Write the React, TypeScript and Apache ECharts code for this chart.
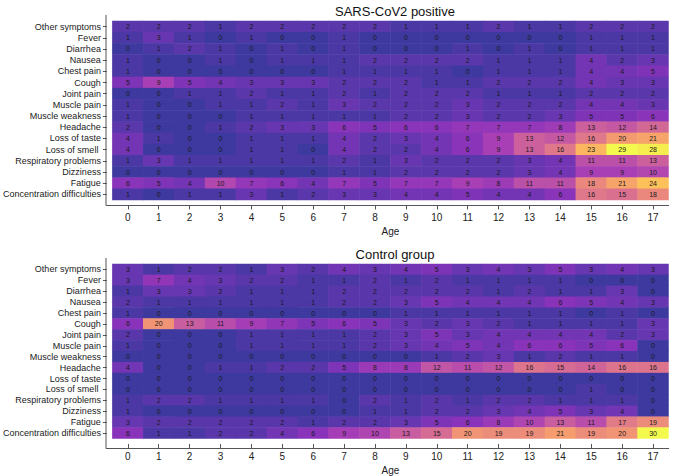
import React, { useEffect, useRef } from "react";
import * as echarts from "echarts";

const ages = ["0","1","2","3","4","5","6","7","8","9","10","11","12","13","14","15","16","17"];
const symptoms = [
  "Other symptoms","Fever","Diarrhea","Nausea","Chest pain","Cough","Joint pain","Muscle pain",
  "Muscle weakness","Headache","Loss of taste","Loss of smell ","Respiratory problems","Dizziness",
  "Fatigue","Concentration difficulties",
];

const sarsValues: number[][] = [
  [2,2,2,1,2,2,2,2,2,1,1,1,2,1,1,2,2,2],
  [1,3,1,0,1,0,0,1,0,0,0,0,0,0,0,1,1,1],
  [0,1,2,1,0,1,0,1,0,0,0,1,0,1,0,1,1,1],
  [1,0,0,1,0,1,1,1,2,2,2,2,1,1,1,4,2,3],
  [1,0,0,0,0,0,0,1,1,1,1,0,1,1,1,4,4,5],
  [5,9,5,4,3,3,3,2,2,2,1,1,2,2,2,4,3,3],
  [0,0,1,1,2,1,1,2,1,2,2,2,1,1,1,2,2,2],
  [1,0,0,1,1,2,1,3,2,2,2,3,2,2,2,4,4,3],
  [1,0,0,0,1,1,1,1,1,2,2,3,2,2,3,5,5,6],
  [2,0,0,1,2,3,3,6,5,6,6,7,7,7,8,13,12,14],
  [4,1,0,0,1,1,1,4,2,3,4,6,9,13,12,16,20,21],
  [4,0,0,0,1,1,0,4,2,2,4,6,9,13,16,23,29,28],
  [1,3,1,1,1,1,1,2,1,3,2,2,2,3,4,11,11,13],
  [0,0,0,0,0,0,0,1,1,2,2,2,2,3,4,9,9,10],
  [6,5,4,10,7,6,4,7,5,7,7,9,8,11,11,18,21,24],
  [1,0,1,1,3,1,2,3,3,4,4,5,4,4,6,16,15,18],
];

const controlValues: number[][] = [
  [3,1,2,2,1,3,2,4,3,4,5,3,4,3,5,3,4,3],
  [3,7,4,3,2,2,1,1,2,1,2,1,1,1,1,0,0,0],
  [1,3,3,2,1,1,1,2,2,2,2,2,1,2,1,1,3,0],
  [2,1,1,1,1,1,1,2,2,3,5,4,4,4,6,5,4,3],
  [1,0,0,0,0,0,0,0,0,1,1,1,1,1,1,0,1,0],
  [6,20,13,11,9,7,5,6,5,3,2,3,2,1,1,1,1,3],
  [2,0,0,0,1,1,1,1,2,3,5,3,4,4,4,4,2,3],
  [1,0,0,0,1,1,1,1,2,3,4,5,4,6,6,5,6,0],
  [0,0,0,0,0,0,0,0,0,0,1,2,3,1,2,1,1,0],
  [4,0,0,1,1,2,2,5,8,8,12,11,12,16,15,14,16,16],
  [0,0,0,0,0,0,0,0,0,0,0,0,0,0,0,0,0,0],
  [0,0,0,0,0,0,0,0,0,0,0,0,0,0,0,1,0,0],
  [1,2,2,1,1,1,1,0,2,1,2,1,2,2,1,1,1,0],
  [1,0,0,0,0,0,0,0,1,1,2,2,3,4,5,3,4,0],
  [3,2,2,2,2,2,1,2,2,3,5,6,8,10,13,11,17,19],
  [6,1,1,2,2,4,6,9,10,13,15,20,19,19,21,19,20,30],
];

const titles = ["SARS-CoV2 positive", "Control group"];

// plasma colormap blended at 80% over white
const palette = [
  "#3d399f","#6736b1","#8833b9","#a53db6","#c155a6","#d66c93",
  "#e78381","#f59d6f","#fdb85e","#fdd851","#f3fa4d",
];

const FONT = "Liberation Sans, Arial, Helvetica, sans-serif";

function toCells(m: number[][]) {
  const out: number[][] = [];
  m.forEach((row, yi) => row.forEach((v, xi) => out.push([xi, yi, v])));
  return out;
}

export default function App() {
  const ref = useRef<HTMLDivElement>(null);
  useEffect(() => {
    if (!ref.current) return;
    const chart = echarts.init(ref.current, null, { renderer: "svg" });
    const gridLeft = 111.5;
    const gridWidth = 557;
    const gridH = 179;
    const tops = [21, 264];
    const spineColor = "#555";
    const datasets = [sarsValues, controlValues];

    const graphics: any[] = [];
    tops.forEach((t) => {
      const yAxisX = gridLeft - 5.5;
      const xAxisY = t + gridH + 5.5;
      graphics.push({
        type: "line",
        shape: { x1: yAxisX, y1: t - 6, x2: yAxisX, y2: xAxisY },
        style: { stroke: spineColor, lineWidth: 1 },
      });
      graphics.push({
        type: "line",
        shape: { x1: yAxisX, y1: xAxisY, x2: gridLeft + gridWidth + 0.5, y2: xAxisY },
        style: { stroke: spineColor, lineWidth: 1 },
      });
    });

    chart.setOption({
      animation: false,
      backgroundColor: "#ffffff",
      textStyle: { fontFamily: FONT },
      title: titles.map((t, i) => ({
        text: t,
        left: gridLeft + gridWidth / 2,
        textAlign: "center",
        top: i === 0 ? 0 : 243,
        textStyle: { fontFamily: FONT, fontSize: 13, fontWeight: "normal", color: "#111" },
      })),
      grid: tops.map((t) => ({ left: gridLeft, top: t, width: gridWidth, height: gridH })),
      xAxis: tops.map((_, i) => ({
        type: "category",
        gridIndex: i,
        data: ages,
        offset: 5.5,
        axisLine: { show: false },
        axisTick: { show: true, interval: 0, alignWithLabel: true, length: 4, lineStyle: { color: spineColor } },
        axisLabel: { interval: 0, fontSize: 10, color: "#222", margin: 7, fontFamily: FONT },
        splitLine: { show: false },
        splitArea: { show: false },
        name: "Age",
        nameLocation: "middle",
        nameGap: 21,
        nameTextStyle: { fontSize: 10, color: "#222", fontFamily: FONT },
      })),
      yAxis: tops.map((_, i) => ({
        type: "category",
        gridIndex: i,
        data: symptoms,
        inverse: true,
        offset: 5.5,
        axisLine: { show: false },
        axisTick: { show: true, interval: 0, alignWithLabel: true, length: 4, lineStyle: { color: spineColor } },
        axisLabel: { interval: 0, fontSize: 9, color: "#222", margin: 6, fontFamily: FONT },
        splitLine: { show: false },
        splitArea: { show: false },
      })),
      visualMap: datasets.map((m, i) => ({
        show: false,
        type: "continuous",
        seriesIndex: i,
        min: 0,
        max: Math.max(...m.flat()),
        inRange: { color: palette },
      })),
      series: datasets.map((m, i) => ({
        type: "heatmap",
        xAxisIndex: i,
        yAxisIndex: i,
        data: toCells(m),
        label: {
          show: true,
          fontSize: 7,
          color: "#1a1a1a",
          fontFamily: FONT,
          formatter: (p: any) => String(p.value[2]),
        },
        itemStyle: { borderWidth: 0 },
        emphasis: { disabled: true },
      })),
      graphic: graphics,
    });
    return () => chart.dispose();
  }, []);
  return (
    <div
      ref={ref}
      style={{ position: "fixed", left: 0, top: 0, width: 676, height: 476 }}
    />
  );
}
